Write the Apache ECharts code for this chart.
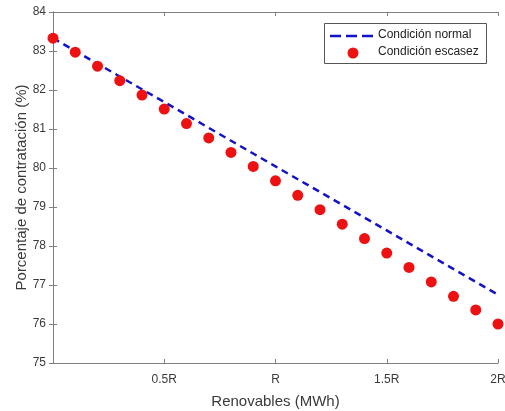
<!DOCTYPE html>
<html><head><meta charset="utf-8">
<script src="https://cdn.jsdelivr.net/npm/echarts@6/dist/echarts.min.js"></script>
<style>html,body{margin:0;padding:0;background:#fff}#c{width:505px;height:411px}</style>
</head><body><div id="c"></div>
<script>
const xTicks = [0, 0.5, 1, 1.5, 2];
const xTickLabels = ['', '0.5R', 'R', '1.5R', '2R'];
const normalX = [0, 0.5, 1, 1.5, 2];
const normalY = [83.33, 81.69, 80.04, 78.40, 76.75];
const scarceX = [0,0.1,0.2,0.3,0.4,0.5,0.6,0.7,0.8,0.9,1,1.1,1.2,1.3,1.4,1.5,1.6,1.7,1.8,1.9,2];
const scarceY = [83.33,82.97,82.61,82.24,81.87,81.51,81.14,80.77,80.40,80.04,79.67,79.30,78.93,78.56,78.19,77.82,77.45,77.08,76.71,76.36,76.00];
const seriesNames = ['Condición normal', 'Condición escasez'];

const font = 'Liberation Sans, Arial, sans-serif';
const axisCol = '#7f7f7f';
const txtCol = '#3a3a3a';
const blue = '#1212c8';
const red = '#ee1111';
function xLabel(v){ const i = xTicks.findIndex(t => Math.abs(t - v) < 1e-9); return i >= 0 ? xTickLabels[i] : ''; }

const chart = echarts.init(document.getElementById('c'));
chart.setOption({
  animation: false,
  backgroundColor: '#fff',
  grid: { left: 53, right: 7, top: 12, bottom: 48, containLabel: false, outerBoundsMode: 'none' },
  xAxis: [
    { type: 'value', min: 0, max: 2, interval: 0.5, position: 'bottom',
      name: 'Renovables (MWh)', nameLocation: 'middle', nameGap: 31, nameMoveOverlap: false,
      nameTextStyle: { fontFamily: font, fontSize: 15, color: txtCol },
      axisLine: { lineStyle: { color: axisCol, width: 1 } },
      axisTick: { inside: true, length: 4, lineStyle: { color: axisCol } },
      axisLabel: { formatter: xLabel, fontFamily: font, fontSize: 12, color: txtCol, margin: 11 },
      splitLine: { show: false } },
    { type: 'value', min: 0, max: 2, interval: 0.5, position: 'top',
      axisLine: { lineStyle: { color: axisCol, width: 1 } },
      axisTick: { inside: true, length: 4, lineStyle: { color: axisCol } },
      axisLabel: { show: false }, splitLine: { show: false } }
  ],
  yAxis: [
    { type: 'value', min: 75, max: 84, interval: 1, position: 'left',
      name: 'Porcentaje de contratación (%)', nameLocation: 'middle', nameGap: 24, nameMoveOverlap: false,
      nameTextStyle: { fontFamily: font, fontSize: 15, color: txtCol },
      axisLine: { show: true, lineStyle: { color: axisCol, width: 1 } },
      axisTick: { show: true, inside: true, length: 4, lineStyle: { color: axisCol } },
      axisLabel: { fontFamily: font, fontSize: 12, color: txtCol, margin: 7 },
      splitLine: { show: false } },
    { type: 'value', min: 75, max: 84, interval: 1, position: 'right',
      axisLine: { show: true, lineStyle: { color: axisCol, width: 1 } },
      axisTick: { show: true, inside: true, length: 4, lineStyle: { color: axisCol } },
      axisLabel: { show: false }, splitLine: { show: false } }
  ],
  graphic: [
    { type: 'rect', left: 324, top: 23, z: 10, shape: { width: 162, height: 40 },
      style: { fill: '#fff', stroke: '#555', lineWidth: 1 } },
    { type: 'line', z: 11, shape: { x1: 330, y1: 36, x2: 374, y2: 36 },
      style: { stroke: blue, lineWidth: 2.5, lineDash: [11, 5] } },
    { type: 'circle', z: 11, shape: { cx: 353, cy: 53, r: 5.5 }, style: { fill: red } },
    { type: 'text', z: 11, left: 378, top: 29,
      style: { text: seriesNames[0], font: '12px ' + font, fill: '#222' } },
    { type: 'text', z: 11, left: 378, top: 46,
      style: { text: seriesNames[1], font: '12px ' + font, fill: '#222' } }
  ],
  series: [
    { name: seriesNames[0], type: 'line', xAxisIndex: 0, yAxisIndex: 0,
      data: normalX.map((x, i) => [x, normalY[i]]),
      symbol: 'none', itemStyle: { color: blue },
      lineStyle: { color: blue, width: 2.5, type: [7, 5] }, z: 2 },
    { name: seriesNames[1], type: 'scatter', xAxisIndex: 0, yAxisIndex: 0,
      data: scarceX.map((x, i) => [x, scarceY[i]]),
      symbol: 'circle', symbolSize: 11, itemStyle: { color: red, opacity: 1 }, z: 3 }
  ]
});
</script></body></html>
